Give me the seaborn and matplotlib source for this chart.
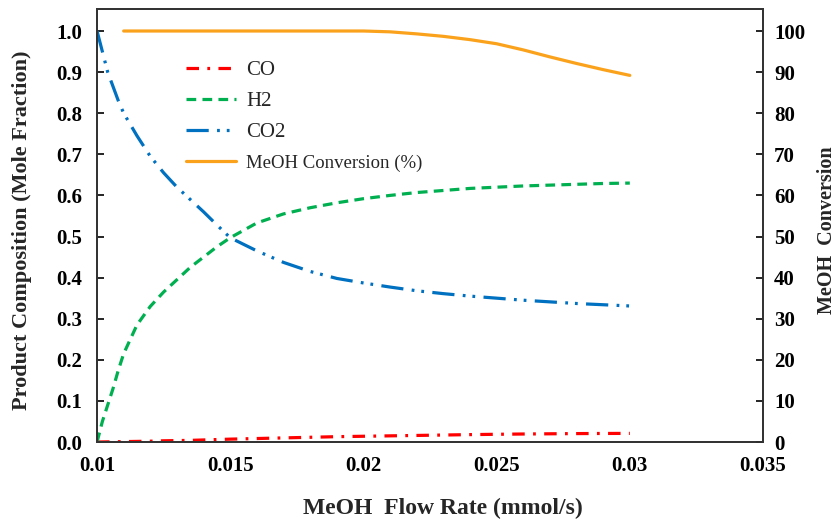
import matplotlib
matplotlib.use("Agg")
import matplotlib.pyplot as plt
import seaborn as sns
import pandas as pd

flow = [0.010, 0.0102, 0.0104, 0.0106, 0.0108, 0.011, 0.0115, 0.012, 0.0125, 0.013,
        0.0135, 0.014, 0.0145, 0.015, 0.016, 0.017, 0.018, 0.019, 0.020, 0.021,
        0.022, 0.023, 0.024, 0.025, 0.026, 0.027, 0.028, 0.029, 0.030]
co = [0.0, 0.0002, 0.0004, 0.0006, 0.0008, 0.001, 0.0015, 0.002, 0.003, 0.0035,
      0.004, 0.005, 0.006, 0.007, 0.0085, 0.010, 0.0115, 0.013, 0.014, 0.015,
      0.016, 0.017, 0.018, 0.0188, 0.0195, 0.020, 0.0205, 0.0208, 0.021]
h2 = [0.0, 0.05, 0.09, 0.13, 0.175, 0.215, 0.285, 0.33, 0.365, 0.395,
      0.425, 0.45, 0.475, 0.497, 0.533, 0.555, 0.57, 0.582, 0.592, 0.600,
      0.607, 0.612, 0.617, 0.620, 0.623, 0.625, 0.627, 0.629, 0.63]
co2 = [1.0, 0.95, 0.9, 0.865, 0.83, 0.80, 0.745, 0.695, 0.655, 0.62,
       0.59, 0.56, 0.528, 0.497, 0.465, 0.437, 0.415, 0.398, 0.387, 0.377,
       0.368, 0.361, 0.355, 0.35, 0.345, 0.341, 0.337, 0.334, 0.331]

conv_flow = [0.011, 0.012, 0.014, 0.016, 0.018, 0.020, 0.021, 0.022, 0.023, 0.024,
             0.025, 0.026, 0.027, 0.028, 0.029, 0.030]
conv = [100, 100, 100, 100, 100, 100, 99.8, 99.3, 98.7, 97.9,
        96.9, 95.4, 93.7, 92.1, 90.6, 89.2]

df = pd.DataFrame({"flow": flow, "CO": co, "H2": h2, "CO2": co2})
dfc = pd.DataFrame({"flow": conv_flow, "conv": conv})

sns.set_theme(style="white")
plt.rcParams["font.family"] = ["Liberation Serif", "DejaVu Serif"]
plt.rcParams["lines.scale_dashes"] = False

fig = plt.figure(figsize=(8.38, 5.21), dpi=100)
ax = fig.add_axes([0.1158, 0.1516, 0.7947, 0.8311])
ax2 = ax.twinx()

lw = 2.3
sns.lineplot(data=df, x="flow", y="CO", ax=ax, color="#FF0000", lw=lw, label="CO")
sns.lineplot(data=df, x="flow", y="H2", ax=ax, color="#00B050", lw=lw, label="H2")
sns.lineplot(data=df, x="flow", y="CO2", ax=ax, color="#0070C0", lw=lw, label="CO2")
sns.lineplot(data=dfc, x="flow", y="conv", ax=ax2, color="#FBA21D", lw=lw,
             label="MeOH Conversion (%)")

ax.lines[0].set_dashes([9, 6, 2, 6])
ax.lines[1].set_dashes([7, 4.5])
ax.lines[2].set_dashes([16, 6, 2, 5, 2, 6])

ax.set_xlim(0.01, 0.035)
ax.set_ylim(0, 1.0535)
ax2.set_ylim(0, 105.35)
ax.set_xticks([0.01, 0.015, 0.02, 0.025, 0.03, 0.035])
ax.set_xticklabels(["0.01", "0.015", "0.02", "0.025", "0.03", "0.035"])
ax.set_yticks([i / 10 for i in range(11)])
ax.set_yticklabels([f"{i/10:.1f}" for i in range(11)])
ax2.set_yticks(list(range(0, 101, 10)))

for a in (ax, ax2):
    a.tick_params(direction="in", length=5, width=1.2, labelsize=15, colors="black")
    for lab in a.get_xticklabels() + a.get_yticklabels():
        lab.set_fontweight("bold")
    for s in a.spines.values():
        s.set_color("#333333")
        s.set_linewidth(1.3)
ax.tick_params(axis="x", pad=10)
ax.tick_params(axis="y", pad=11)
ax2.tick_params(axis="y", pad=8)

ax.set_xlabel("MeOH  Flow Rate (mmol/s)", fontsize=17, fontweight="bold")
ax.set_ylabel("Product Composition (Mole Fraction)", fontsize=16, fontweight="bold")
ax2.set_ylabel("MeOH  Conversion", fontsize=14.5, fontweight="bold")
ax.xaxis.set_label_coords(0.52, -0.13)
ax.yaxis.set_label_coords(-0.0976, 0.49)
ax2.yaxis.set_label_coords(1.0805, 0.49)

h1, l1 = ax.get_legend_handles_labels()
h2_, l2 = ax2.get_legend_handles_labels()
if ax2.get_legend():
    ax2.get_legend().remove()
leg = ax.legend(h1 + h2_, l1 + l2, loc="upper left", bbox_to_anchor=(0.105, 0.925),
                frameon=False, fontsize=15, handlelength=2.4, labelspacing=0.55,
                handletextpad=0.5)
for t in leg.get_texts():
    if t.get_text().startswith("MeOH"):
        t.set_fontsize(13.5)

fig.savefig("out.png", dpi=100)
